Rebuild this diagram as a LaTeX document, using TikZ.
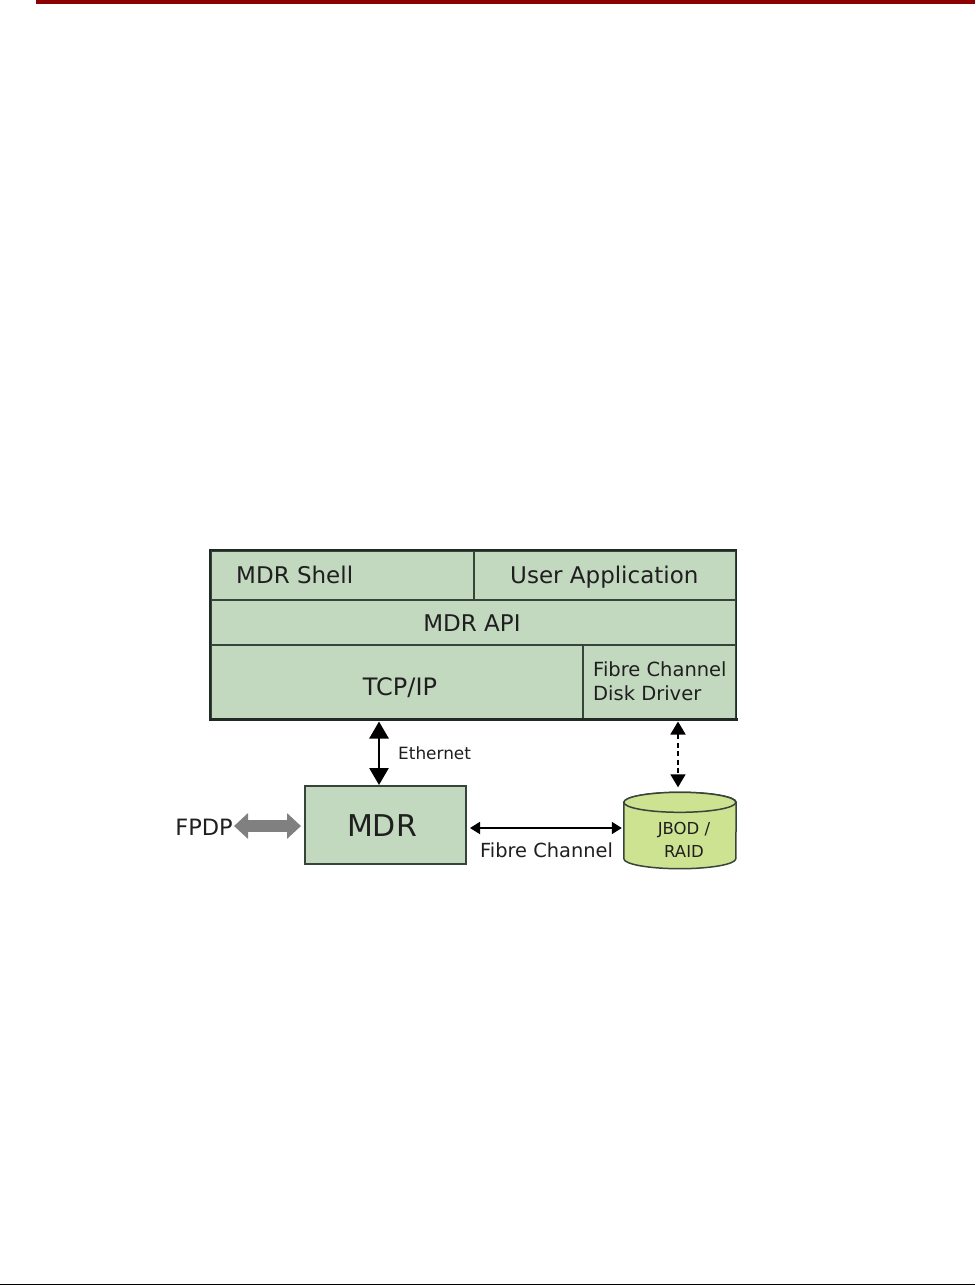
\documentclass[tikz,border=0pt]{standalone}
\usepackage{fontspec}
\setmainfont{DejaVu Sans}
\usetikzlibrary{arrows.meta,calc}
\definecolor{cellgreen}{HTML}{C2D9BF}
\definecolor{diskgreen}{HTML}{CDE392}
\definecolor{barred}{HTML}{8B0000}
\definecolor{arrowgray}{HTML}{808080}
\definecolor{inkdark}{HTML}{1E2A22}
\tikzset{
  cell/.style={draw=inkdark!85!cellgreen,line width=1.5pt,fill=cellgreen,inner sep=0pt,anchor=north west},
  lab/.style={inner sep=0pt,text=black!88},
  diskline/.style={draw=inkdark!85!cellgreen,line width=1.5pt,fill=diskgreen},
  biarrow/.style={{Triangle[length=17pt,width=19pt]}-{Triangle[length=17pt,width=19pt]},line width=2.6pt},
  thinarrow/.style={{Triangle[length=10pt,width=12pt]}-{Triangle[length=10pt,width=12pt]},line width=1.8pt},
  dasharrow/.style={{Triangle[length=13pt,width=15pt]}-{Triangle[length=13pt,width=15pt]},line width=1.8pt,dash pattern=on 5pt off 3.5pt},
  grayarrow/.style={{Triangle[length=14pt,width=25pt]}-{Triangle[length=14pt,width=25pt]},line width=12pt,draw=arrowgray,color=arrowgray}
}
\begin{document}
\begin{tikzpicture}[x=1pt,y=-1pt]
\useasboundingbox (0,0) rectangle (975,1285);
\fill[barred] (36,0) rectangle (975,4);
\fill[black] (0,1284) rectangle (975,1285);
% stack cells
\node[cell,minimum width=263pt,minimum height=49pt] (shell) at (210,550) {};
\node[cell,minimum width=262pt,minimum height=49pt] (app) at (473,550) {};
\node[cell,minimum width=525pt,minimum height=45pt] (api) at (210,599) {};
\node[cell,minimum width=372pt,minimum height=74pt] (tcp) at (210,644) {};
\node[cell,minimum width=153pt,minimum height=74pt] (fcd) at (582,644) {};
\draw[inkdark,line width=1.9pt] (shell.north west) rectangle (fcd.south east);
\draw[inkdark,line width=3pt,line cap=rect] (tcp.south west) -- (fcd.south east);
\node[lab,font=\fontsize{23}{24}\selectfont,anchor=base west] (shelllab) at (236,583) {MDR Shell};
\node[lab,font=\fontsize{23}{24}\selectfont,anchor=base west] (applab) at (510,583) {User Application};
\node[lab,font=\fontsize{23}{24}\selectfont,anchor=base] (apilab) at (472,631) {MDR API};
\node[lab,font=\fontsize{24}{24}\selectfont,anchor=base] (tcplab) at (400,695) {TCP/IP};
\node[lab,font=\fontsize{19.5}{24}\selectfont,align=left,anchor=north west] (fcdlab) at (593,661) {Fibre Channel\\Disk Driver};
% MDR and disk
\node[cell,line width=2pt,minimum width=161pt,minimum height=78pt] (mdr) at (304,785) {};
\node[lab,font=\fontsize{30}{36}\selectfont,anchor=base] (mdrlab) at (382,836) {MDR};
\node[inner sep=0pt,minimum width=112pt,minimum height=76pt] (disk) at (680,830.5) {};
\path[diskline] ($(disk.north west)+(0,10)$) -- ($(disk.south west)+(0,-10)$)
  arc[start angle=180,end angle=360,x radius=56pt,y radius=10pt]
  -- ($(disk.north east)+(0,10)$)
  arc[start angle=0,end angle=180,x radius=56pt,y radius=10pt] -- cycle;
\path[diskline] ($(disk.north west)+(0,10)$)
  arc[start angle=180,end angle=540,x radius=56pt,y radius=10pt] -- cycle;
\node[lab,font=\fontsize{16.5}{24}\selectfont,align=center,anchor=north] (disklab) at (684,822) {JBOD /\\[-1pt]RAID};
% labels
\node[lab,font=\fontsize{16.9}{18}\selectfont,anchor=base west] (ethlab) at (398,759) {Ethernet};
\node[lab,font=\fontsize{19.4}{20}\selectfont,anchor=base west] (fclab) at (480,857) {Fibre Channel};
\node[lab,font=\fontsize{22.5}{24}\selectfont,anchor=base east] (fpdp) at (233,835) {FPDP};
% connectors
\coordinate (ethx) at (379,750);
\coordinate (dskx) at (678,750);
\coordinate (fcy) at (500,828);
\coordinate (gry) at (300,826);
\draw[biarrow] ($(ethx |- tcp.south)+(0,2)$) -- (ethx |- mdr.north);
\draw[dasharrow] ($(dskx |- fcd.south)+(0,2)$) -- ($(dskx |- disk.north)+(0,-5)$);
\draw[thinarrow] ($(mdr.east |- fcy)+(3,0)$) -- ($(disk.west |- fcy)+(-2,0)$);
\draw[grayarrow] ($(fpdp.east |- gry)+(1,0)$) -- ($(mdr.west |- gry)+(-3,0)$);
\end{tikzpicture}
\end{document}
